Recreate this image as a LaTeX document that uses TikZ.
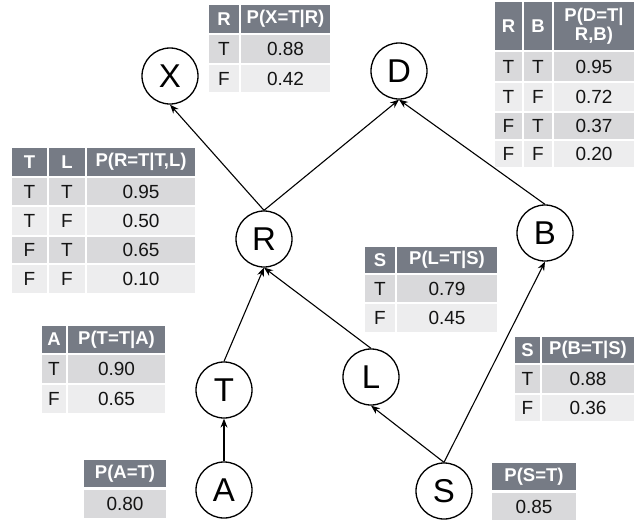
\documentclass[tikz,border=0pt]{standalone}
\usepackage{fontspec}
\setmainfont{Liberation Sans}
\usetikzlibrary{arrows.meta}
\definecolor{hdrgray}{RGB}{118,123,133}
\definecolor{rowdark}{RGB}{217,217,219}
\definecolor{rowlight}{RGB}{237,237,238}
\definecolor{txt}{RGB}{20,20,20}
\newcommand\mkcell[7]{%
  \node[#6, minimum width={(#4-#2)*1pt}, minimum height={(#5-#3)*1pt}] (#1) at (#2,#3) {#7};}
\tikzset{
  var/.style={circle, draw=black, line width=1.3pt, minimum size=56pt, inner sep=0pt,
    font=\fontsize{33}{33}\selectfont},
  edge/.style={line width=1.1pt, -{Stealth[length=9pt,width=7pt,inset=3pt]}},
  cellbase/.style={inner sep=0pt, outer sep=0pt, anchor=north west, align=center},
  hcell/.style={cellbase, fill=hdrgray, text=white, font=\bfseries\fontsize{18.5}{19}\selectfont},
  dcell/.style={cellbase, fill=rowdark, text=txt, font=\fontsize{19}{19}\selectfont},
  lcell/.style={cellbase, fill=rowlight, text=txt, font=\fontsize{19}{19}\selectfont},
}
\begin{document}
\begin{tikzpicture}[x=1pt,y=-1pt]
\useasboundingbox (0,0) rectangle (635,523);
% variable nodes
\node[var] (X) at (170,76) {X};
\node[var] (D) at (399,71) {D};
\node[var] (R) at (264,239) {R};
\node[var] (B) at (545,233) {B};
\node[var] (T) at (224,390) {T};
\node[var] (L) at (371,377) {L};
\node[var] (A) at (224,490) {A};
\node[var] (S) at (444,491) {S};
% edges
\draw[edge] (R.north) -- (X.south);
\draw[edge] (R.north) -- (D.south);
\draw[edge] (B.north) -- (D.south);
\draw[edge] (T.north) -- (R.south);
\draw[edge] (L.north) -- (R.south);
\draw[edge] (A.north) -- (T.south);
\draw[edge] (S.north) -- (L.south);
\draw[edge] (S.north) -- (B.south);
% table X
\mkcell{xh1}{209}{5}{239}{33}{hcell}{R}
\mkcell{xh2}{241}{5}{330}{33}{hcell}{P(X=T|R)}
\mkcell{x11}{209}{35}{239}{63}{dcell}{T}
\mkcell{x12}{241}{35}{330}{63}{dcell}{0.88}
\mkcell{x21}{209}{65}{239}{92}{lcell}{F}
\mkcell{x22}{241}{65}{330}{92}{lcell}{0.42}
% table D
\mkcell{dh1}{495}{2}{522}{50}{hcell}{R}
\mkcell{dh2}{524}{2}{552}{50}{hcell}{B}
\mkcell{dh3}{554}{2}{634}{50}{hcell}{P(D=T|\\R,B)}
\mkcell{d11}{495}{52}{522}{81}{dcell}{T}
\mkcell{d12}{524}{52}{552}{81}{dcell}{T}
\mkcell{d13}{554}{52}{634}{81}{dcell}{0.95}
\mkcell{d21}{495}{83}{522}{111}{lcell}{T}
\mkcell{d22}{524}{83}{552}{111}{lcell}{F}
\mkcell{d23}{554}{83}{634}{111}{lcell}{0.72}
\mkcell{d31}{495}{113}{522}{139}{dcell}{F}
\mkcell{d32}{524}{113}{552}{139}{dcell}{T}
\mkcell{d33}{554}{113}{634}{139}{dcell}{0.37}
\mkcell{d41}{495}{141}{522}{167}{lcell}{F}
\mkcell{d42}{524}{141}{552}{167}{lcell}{F}
\mkcell{d43}{554}{141}{634}{167}{lcell}{0.20}
% table R
\mkcell{rh1}{12}{148}{47}{176}{hcell}{T}
\mkcell{rh2}{49}{148}{85}{176}{hcell}{L}
\mkcell{rh3}{87}{148}{195}{176}{hcell}{P(R=T|T,L)}
\mkcell{r11}{12}{178}{47}{205}{dcell}{T}
\mkcell{r12}{49}{178}{85}{205}{dcell}{T}
\mkcell{r13}{87}{178}{195}{205}{dcell}{0.95}
\mkcell{r21}{12}{207}{47}{235}{lcell}{T}
\mkcell{r22}{49}{207}{85}{235}{lcell}{F}
\mkcell{r23}{87}{207}{195}{235}{lcell}{0.50}
\mkcell{r31}{12}{237}{47}{263}{dcell}{F}
\mkcell{r32}{49}{237}{85}{263}{dcell}{T}
\mkcell{r33}{87}{237}{195}{263}{dcell}{0.65}
\mkcell{r41}{12}{265}{47}{293}{lcell}{F}
\mkcell{r42}{49}{265}{85}{293}{lcell}{F}
\mkcell{r43}{87}{265}{195}{293}{lcell}{0.10}
% table L
\mkcell{lh1}{365}{247}{395}{273}{hcell}{S}
\mkcell{lh2}{397}{247}{497}{273}{hcell}{P(L=T|S)}
\mkcell{l11}{365}{275}{395}{302}{dcell}{T}
\mkcell{l12}{397}{275}{497}{302}{dcell}{0.79}
\mkcell{l21}{365}{304}{395}{332}{lcell}{F}
\mkcell{l22}{397}{304}{497}{332}{lcell}{0.45}
% table T
\mkcell{th1}{42}{326}{66}{353}{hcell}{A}
\mkcell{th2}{68}{326}{165}{353}{hcell}{P(T=T|A)}
\mkcell{t11}{42}{355}{66}{383}{dcell}{T}
\mkcell{t12}{68}{355}{165}{383}{dcell}{0.90}
\mkcell{t21}{42}{385}{66}{413}{lcell}{F}
\mkcell{t22}{68}{385}{165}{413}{lcell}{0.65}
% table B
\mkcell{bh1}{515}{337}{540}{363}{hcell}{S}
\mkcell{bh2}{542}{337}{634}{363}{hcell}{P(B=T|S)}
\mkcell{b11}{515}{365}{540}{393}{dcell}{T}
\mkcell{b12}{542}{365}{634}{393}{dcell}{0.88}
\mkcell{b21}{515}{395}{540}{421}{lcell}{F}
\mkcell{b22}{542}{395}{634}{421}{lcell}{0.36}
% table A
\mkcell{ah1}{84}{460}{166}{487}{hcell}{P(A=T)}
\mkcell{a11}{84}{490}{166}{518}{dcell}{0.80}
% table S
\mkcell{sh1}{492}{463}{576}{490}{hcell}{P(S=T)}
\mkcell{s11}{492}{493}{576}{520}{dcell}{0.85}
\end{tikzpicture}
\end{document}
